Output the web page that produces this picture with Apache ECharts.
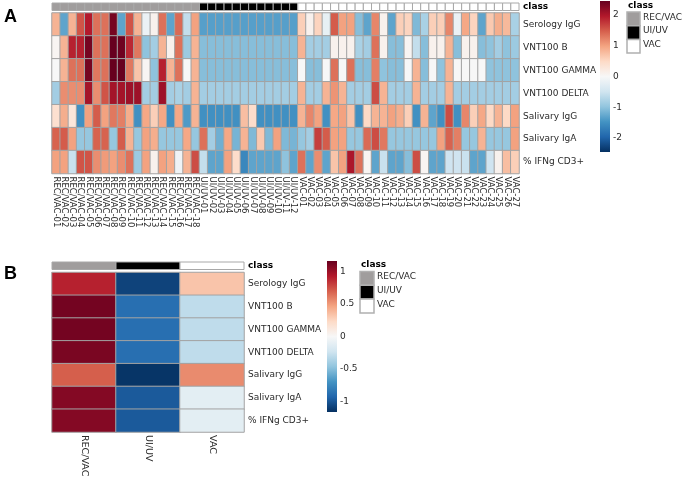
<!DOCTYPE html>
<html><head><meta charset="utf-8">
<script src="https://cdn.jsdelivr.net/npm/echarts@6/dist/echarts.min.js"></script>
<style>html,body{margin:0;padding:0;background:#fff}#c{width:685px;height:479px}</style>
</head><body><div id="c"></div>
<script>
const features = ['Serology IgG','VNT100 B','VNT100 GAMMA','VNT100 DELTA','Salivary IgG','Salivary IgA','% IFNg CD3+'];
const classes = ['REC/VAC','UI/UV','VAC'];
const samples = [
 'REC/VAC-01','REC/VAC-02','REC/VAC-03','REC/VAC-04','REC/VAC-05','REC/VAC-06','REC/VAC-07','REC/VAC-08','REC/VAC-09',
 'REC/VAC-10','REC/VAC-11','REC/VAC-12','REC/VAC-13','REC/VAC-14','REC/VAC-15','REC/VAC-16','REC/VAC-17','REC/VAC-18',
 'UI/UV-01','UI/UV-02','UI/UV-03','UI/UV-04','UI/UV-05','UI/UV-06','UI/UV-07','UI/UV-08','UI/UV-09','UI/UV-10','UI/UV-11','UI/UV-12',
 'VAC-01','VAC-02','VAC-03','VAC-04','VAC-05','VAC-06','VAC-07','VAC-08','VAC-09','VAC-10','VAC-11','VAC-12','VAC-13','VAC-14',
 'VAC-15','VAC-16','VAC-17','VAC-18','VAC-19','VAC-20','VAC-21','VAC-22','VAC-23','VAC-24','VAC-25','VAC-26','VAC-27'];

// Panel A: row-scaled values per sample
const serologyIgG = [0.85,-1.3,0.85,1.55,1.95,1.35,1.35,2.35,-1.3,1.55,0.85,-0.15,0.1,1.35,-1.3,1.4,-0.6,1.0,
 -1.35,-1.35,-1.35,-1.35,-1.35,-1.35,-1.35,-1.35,-1.35,-1.35,-1.35,-1.35,
 0.6,0.1,0.55,-0.2,1.5,1.0,1.0,-1.05,-1.3,1.2,0.1,-1.3,0.6,0.55,-1.1,-0.8,0.6,0.6,1.2,-0.15,0.95,0.55,-1.3,0.65,0.9,0.8,-0.8];
const vnt100B = [0.05,0.85,1.9,1.9,2.35,1.35,1.35,2.45,2.4,1.85,1.3,-1.0,-0.85,0.85,0.1,1.35,-0.9,0.85,
 -1.05,-1.05,-1.05,-1.05,-1.05,-1.05,-1.05,-1.05,-1.05,-1.05,-1.05,-1.05,
 0.85,-0.85,-0.85,-0.85,0.1,0.1,0.1,-0.8,-0.85,1.35,0.1,-1.05,-1.05,0.05,-0.6,-1.05,0.1,0.1,0.85,-1.05,0.1,0.1,-1.05,-1.0,-0.85,-1.0,-0.9];
const vnt100Gamma = [0.0,0.85,1.35,1.35,2.35,1.3,1.35,2.45,2.45,1.3,0.7,0.05,-1.0,1.9,0.85,1.35,0.0,0.85,
 -1.05,-1.05,-1.05,-1.05,-1.05,-1.05,-1.05,-1.05,-1.05,-1.05,-1.05,-1.05,
 0.0,-1.05,-1.05,0.0,1.35,0.0,1.35,-1.05,-1.05,1.25,-1.0,-1.05,-1.05,0.0,0.85,-1.05,0.0,-1.0,0.85,0.0,0.0,0.0,0.0,-1.0,-1.0,-1.0,-1.0];
const vnt100Delta = [-0.85,1.15,1.15,1.15,2.05,1.15,1.55,2.05,2.05,2.1,2.1,-0.85,-0.85,2.1,-0.85,-0.8,-0.85,0.85,
 -0.85,-0.85,-0.85,-0.85,-0.85,-0.85,-0.85,-0.85,-0.85,-0.85,-0.85,-0.85,
 0.85,-0.85,-0.85,0.85,1.1,0.85,-0.85,-0.85,-0.85,1.6,0.85,-0.85,-0.85,-0.85,0.85,-0.85,-0.85,-0.85,0.85,-0.85,-0.85,-0.85,-0.85,-0.85,-0.85,-0.85,-0.85];
const salivaryIgG = [0.4,0.9,0.3,-1.5,1.0,1.5,1.0,1.3,1.25,0.9,-1.5,0.95,0.6,0.95,-1.5,0.95,-1.4,0.85,
 -1.5,-1.5,-1.5,-1.5,-1.5,0.75,0.45,-1.5,-1.5,-1.5,-1.5,-1.5,
 0.85,1.2,1.0,-1.5,0.95,1.0,0.7,-1.5,0.5,0.85,0.85,1.0,0.9,0.6,-1.5,0.85,-1.3,-1.5,1.6,-1.5,1.2,0.6,0.95,0.5,0.85,0.5,1.0];
const salivaryIgA = [1.45,1.5,1.0,-0.95,-0.95,1.45,1.45,-0.95,1.5,0.85,-0.95,1.0,0.9,-0.95,-0.95,-0.95,0.95,-0.95,
 1.35,-0.85,-1.2,0.95,-1.15,0.85,-1.1,0.65,-1.1,1.0,-1.1,-1.15,
 -0.95,-0.85,1.7,1.5,1.0,1.0,-0.95,-0.95,1.4,1.6,1.3,-0.95,-0.95,-0.95,-0.95,-0.95,-0.95,1.0,1.45,1.25,-0.95,-0.95,0.85,-0.95,-0.95,-0.95,1.0];
const ifngCD3 = [1.0,1.0,-0.55,1.55,1.55,1.15,1.05,1.0,1.15,1.35,-0.9,1.0,0.1,1.0,0.9,-0.1,0.85,1.6,
 -0.6,-1.3,-1.3,1.0,0.45,-1.6,-1.3,-1.3,-1.3,-1.3,-1.0,-1.3,
 1.35,-1.3,1.15,-1.3,0.7,1.0,2.0,1.35,0.05,-1.3,-0.55,-1.3,-1.3,-1.05,1.6,0.05,-1.3,-1.3,-0.5,-0.5,-0.55,-1.3,-1.3,-0.5,0.1,0.75,0.6];

// Panel B: group means per class (order of features)
const recVacMeans = [0.9,1.12,1.12,1.1,0.7,1.07,1.07];
const uiUvMeans = [-1.08,-0.88,-0.88,-0.88,-1.14,-0.98,-0.98];
const vacMeans = [0.33,-0.3,-0.3,-0.3,0.55,-0.12,-0.12];

const colorbarTicksA = [-2,-1,0,1,2];
const colorbarTicksB = [-1,-0.5,0,0.5,1];

const RdBu = ['#053061','#2166ac','#4393c3','#92c5de','#d1e5f0','#f7f7f7','#fddbc7','#f4a582','#d6604d','#b2182b','#67001f'];
const classColors = {'REC/VAC':'#a09d9d','UI/UV':'#000000','VAC':'#ffffff'};
const FONT = 'DejaVu Sans';
const TXT = '#2b2b2b';

const rowsA = [serologyIgG,vnt100B,vnt100Gamma,vnt100Delta,salivaryIgG,salivaryIgA,ifngCD3];
const dataA = [];
rowsA.forEach((row,r)=>row.forEach((v,c)=>dataA.push([c,r,v])));
const sampleClass = samples.map(s=>s.slice(0,s.lastIndexOf('-')));
const classBarA = sampleClass.map((k,i)=>[i,0,k]);
const colsB = [recVacMeans,uiUvMeans,vacMeans];
const dataB = [];
colsB.forEach((col,c)=>col.forEach((v,r)=>dataB.push([c,r,v])));
const classBarB = classes.map((k,i)=>[i,0,k]);

const sampleOrClass = {};
function classRender(params, api){
  const p = api.coord([api.value(0), api.value(1)]);
  const s = api.size([1,1]);
  const k = sampleOrClass[params.seriesIndex][params.dataIndex];
  return {type:'rect', shape:{x:p[0]-s[0]/2, y:p[1]-s[1]/2, width:s[0], height:s[1]},
    style:{fill:classColors[k], stroke:'#a8a8a8', lineWidth:1}};
}

function catX(gi, data, showLabels, fs){
  return {type:'category', gridIndex:gi, data:data, axisLine:{show:false}, axisTick:{show:false},
    splitLine:{show:false},
    axisLabel:{show:showLabels, rotate:-90, interval:0, fontFamily:FONT, fontSize:fs, color:TXT, margin:3}};
}
function catY(gi, data, bold){
  return {type:'category', gridIndex:gi, data:data, inverse:true, position:'right',
    axisLine:{show:false}, axisTick:{show:false}, splitLine:{show:false},
    axisLabel:{fontFamily:FONT, fontSize:9, color:bold?'#000':TXT, fontWeight:bold?'bold':'normal', margin:4}};
}
function valY(gi, min, max, ticks){
  return {type:'value', gridIndex:gi, min:min, max:max, position:'right',
    axisLine:{show:false}, axisTick:{show:false}, splitLine:{show:false},
    axisLabel:{customValues:ticks, fontFamily:FONT, fontSize:9, color:TXT, margin:3}};
}
const G = (l,t,w,h)=>({left:l, top:t, width:w, height:h, containLabel:false, outerBoundsMode:'none'});

function legend(x, y, bw, bh){
  const els = [{type:'text', left:x+1, top:y-6, style:{text:'class', font:'bold 9px "DejaVu Sans"', fill:'#000'}}];
  classes.forEach((k,i)=>{
    els.push({type:'rect', shape:{x:x, y:y+5+i*bh, width:bw, height:bh}, style:{fill:classColors[k], stroke:'#b0b0b0', lineWidth:1.5}});
    els.push({type:'text', left:x+bw+3, top:y+5+i*bh+bh/2-6, style:{text:k, font:'9px "DejaVu Sans"', fill:TXT}});
  });
  return els;
}
function colorbar(x, y, w, h){
  const stops = RdBu.slice().reverse().map((c,i)=>({offset:i/(RdBu.length-1), color:c}));
  return {type:'rect', shape:{x:x, y:y, width:w, height:h},
    style:{fill:new echarts.graphic.LinearGradient(0,0,0,1,stops)}};
}

const option = {
  animation:false,
  backgroundColor:'#fff',
  grid:[
    G(52,13,467,160.5),   // 0 main A
    G(52,3,467,7.5),      // 1 class bar A
    G(600,1,10,151),      // 2 colorbar A
    G(52,272.5,192,159.5),// 3 main B
    G(52,262,192,7.5),    // 4 class bar B
    G(327,261,10,151)     // 5 colorbar B
  ],
  xAxis:[
    catX(0,samples,true,8.5),
    catX(1,samples,false,9),
    {type:'value', gridIndex:2, show:false, min:0, max:1},
    catX(3,classes,true,9.5),
    catX(4,classes,false,9),
    {type:'value', gridIndex:5, show:false, min:0, max:1}
  ],
  yAxis:[
    catY(0,features,false),
    catY(1,['class'],true),
    valY(2,-2.45,2.45,colorbarTicksA),
    catY(3,features,false),
    catY(4,['class'],true),
    valY(5,-1.16,1.16,colorbarTicksB)
  ],
  visualMap:[
    {type:'continuous', show:false, seriesIndex:0, min:-2.45, max:2.45, inRange:{color:RdBu}},
    {type:'continuous', show:false, seriesIndex:2, min:-1.16, max:1.16, inRange:{color:RdBu}}
  ],
  series:[
    {type:'heatmap', xAxisIndex:0, yAxisIndex:0, data:dataA, itemStyle:{borderColor:'#a3a3a3', borderWidth:1}, emphasis:{disabled:true}},
    {type:'custom', xAxisIndex:1, yAxisIndex:1, data:classBarA.map(d=>[d[0],d[1]]), renderItem:classRender},
    {type:'heatmap', xAxisIndex:3, yAxisIndex:3, data:dataB, itemStyle:{borderColor:'#a3a3a3', borderWidth:1}, emphasis:{disabled:true}},
    {type:'custom', xAxisIndex:4, yAxisIndex:4, data:classBarB.map(d=>[d[0],d[1]]), renderItem:classRender},
    {type:'scatter', xAxisIndex:2, yAxisIndex:2, data:[], silent:true},
    {type:'scatter', xAxisIndex:5, yAxisIndex:5, data:[], silent:true}
  ],
  graphic:[
    {type:'text', left:4, top:8, style:{text:'A', font:'bold 18px "Liberation Sans"', fill:'#000'}},
    {type:'text', left:4, top:265, style:{text:'B', font:'bold 18px "Liberation Sans"', fill:'#000'}},
    colorbar(600,1,10,151),
    colorbar(327,261,10,151),
    ...legend(627,7,13,13.7),
    ...legend(360,266.5,14,13.8)
  ]
};
sampleOrClass[1] = classBarA.map(d=>d[2]);
sampleOrClass[3] = classBarB.map(d=>d[2]);
const chart = echarts.init(document.getElementById('c'), null, {renderer:'canvas'});
chart.setOption(option);
</script></body></html>
